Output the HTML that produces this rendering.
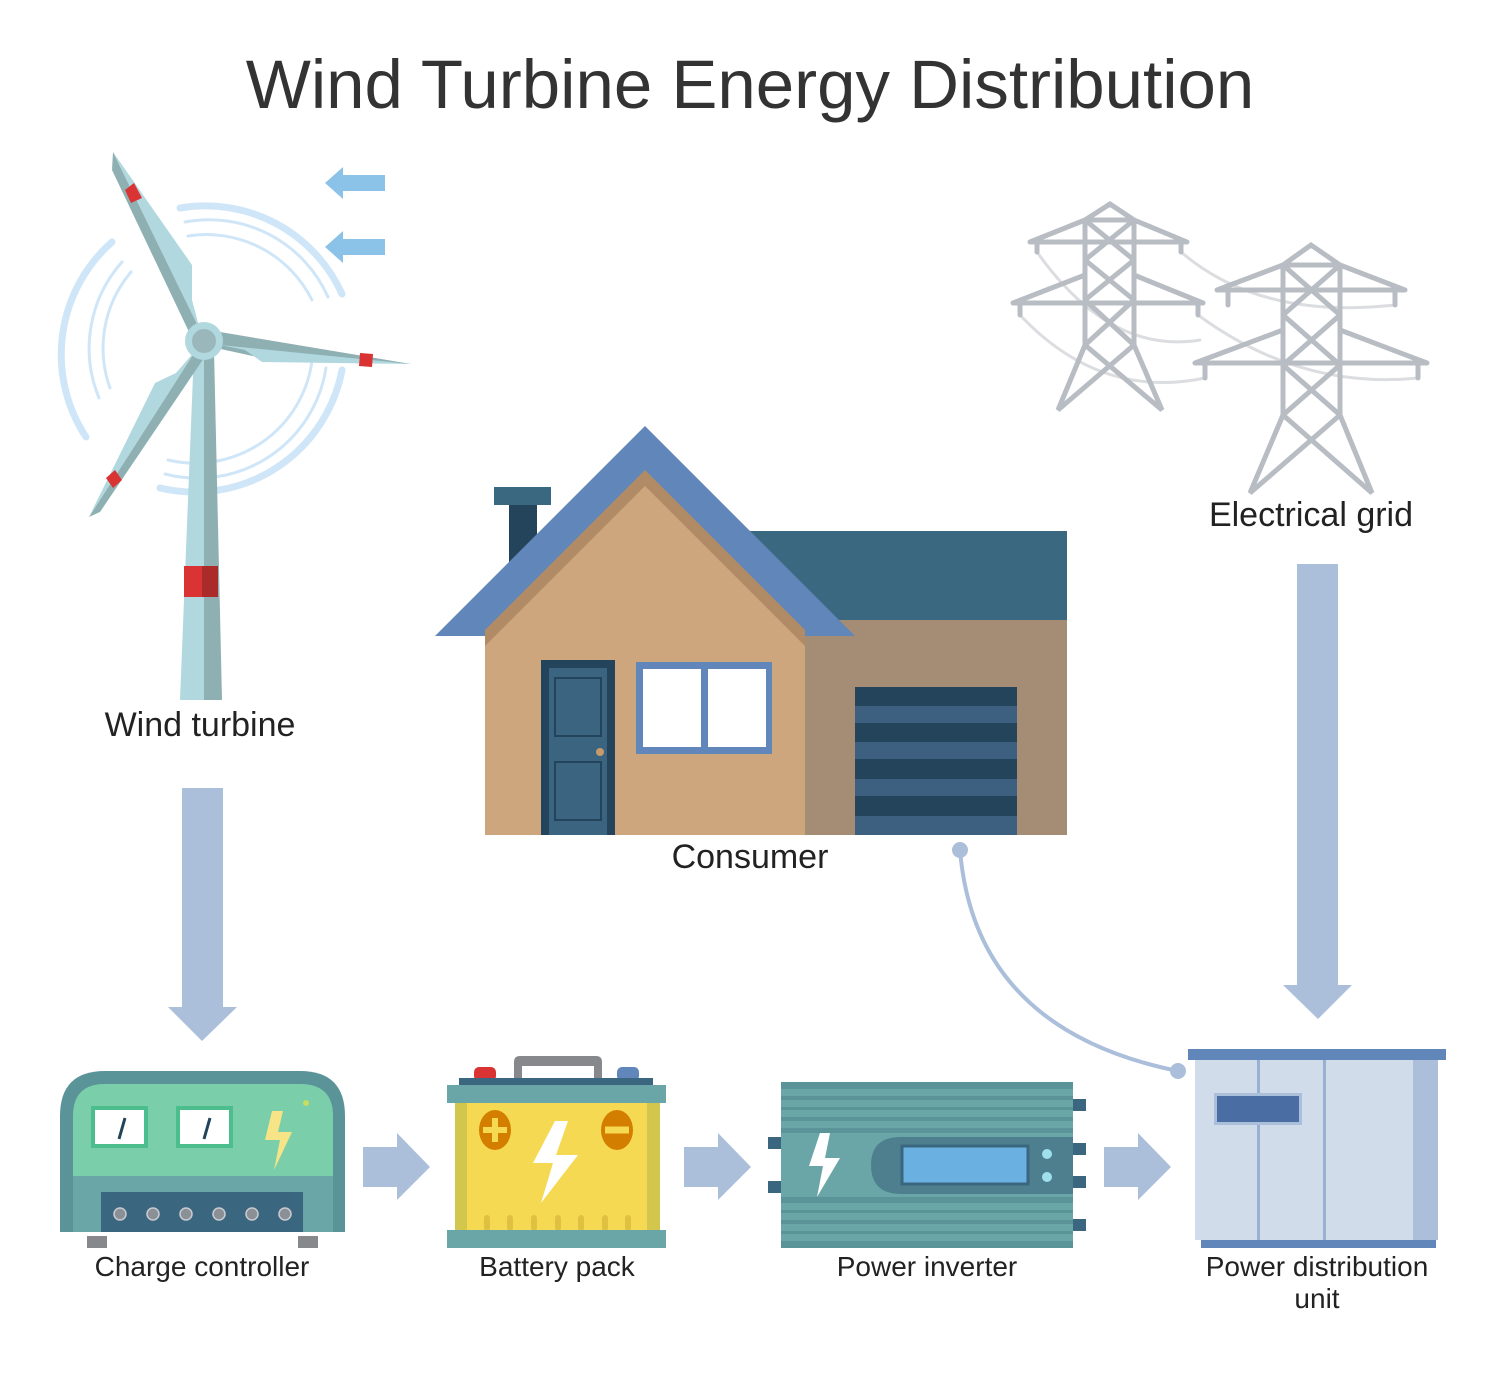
<!DOCTYPE html>
<html><head><meta charset="utf-8"><style>
html,body{margin:0;padding:0;background:#fff;}
svg{display:block;font-family:"Liberation Sans",Arial,sans-serif;}
</style></head><body>
<svg width="1500" height="1377" viewBox="0 0 1500 1377" xmlns="http://www.w3.org/2000/svg">
<rect width="1500" height="1377" fill="#fff"/>
<text x="750" y="108" font-size="69" text-anchor="middle" fill="#333">Wind Turbine Energy Distribution</text>

<!-- wind arcs -->
<g fill="none" stroke="#cfe6f8" stroke-linecap="round">
<path d="M180,208 A150,150 0 0 1 342,294" stroke-width="7"/>
<path d="M185,222 A130,130 0 0 1 328,297" stroke-width="3"/>
<path d="M188,236 A118,118 0 0 1 312,300" stroke-width="3"/>
<path d="M112,242 A150,150 0 0 0 86,437" stroke-width="7"/>
<path d="M122,262 A130,130 0 0 0 99,398" stroke-width="3"/>
<path d="M131,272 A118,118 0 0 0 110,388" stroke-width="3"/>
<path d="M342,370 A150,150 0 0 1 160,488" stroke-width="7"/>
<path d="M326,368 A130,130 0 0 1 165,474" stroke-width="3"/>
<path d="M312,361 A118,118 0 0 1 168,460" stroke-width="3"/>
</g>
<g fill="#8bc3e8">
<polygon points="325,183 343,167 343,175 385,175 385,191 343,191 343,199"/>
<polygon points="325,247 343,231 343,239 385,239 385,255 343,255 343,263"/>
</g>
<polygon points="194,350 204,350 204,700 180,700" fill="#b0d8de"/>
<polygon points="204,350 214,350 222,700 204,700" fill="#8fb0b3"/>
<rect x="184" y="566" width="18" height="31" fill="#d93333"/>
<rect x="202" y="566" width="16" height="31" fill="#ab2a2a"/>
<polygon points="113,152 200,330 190,334 112,170" fill="#8fb0b3"/>
<polygon points="113,152 192,265 192,300 200,330" fill="#b0d8de"/>
<polygon points="125,190 134,183 142,198 131,203" fill="#d93333"/>
<polygon points="411,364 220,332 216,348 262,358" fill="#8fb0b3"/>
<polygon points="411,364 262,362 245,350 220,345" fill="#b0d8de"/>
<polygon points="360,353 373,354 372,367 359,366" fill="#d93333"/>
<polygon points="89,517 196,350 206,355 100,512" fill="#8fb0b3"/>
<polygon points="89,517 155,383 176,373 196,350" fill="#b0d8de"/>
<polygon points="106,478 115,470 122,480 113,488" fill="#d93333"/>
<circle cx="204" cy="341" r="19" fill="#b0d8de"/>
<circle cx="204" cy="341" r="12" fill="#9ab8bb"/>
<text x="200" y="736" font-size="34" text-anchor="middle" fill="#222">Wind turbine</text>

<!-- grid towers -->
<g fill="none" stroke-linecap="round">
<g stroke="#dcdde0" stroke-width="3">
<path d="M1037,252 Q1110,355 1200,340"/>
<path d="M1020,315 Q1100,400 1205,378"/>
<path d="M1181,252 Q1260,320 1395,305"/>
<path d="M1198,315 Q1300,390 1418,378"/>
</g>
<g stroke="#b8bcc3" stroke-width="5">
<path d="M1085,220 L1110,204 L1134,220 M1085,220 L1134,220 M1085,220 V345 M1134,220 V345 M1030,242 H1187 M1085,220 L1030,242 M1134,220 L1187,242 M1037,242 V252 M1181,242 V252 M1013,303 H1203 M1085,275 L1013,303 M1134,275 L1203,303 M1020,303 V315 M1198,303 V315 M1085,220 L1134,260 M1134,220 L1085,260 M1085,260 L1134,300 M1134,260 L1085,300 M1085,300 L1134,345 M1134,300 L1085,345 M1085,345 L1058,410 L1134,345 M1134,345 L1162,410 L1085,345"/>
<path d="M1283,265 L1311,245 L1340,265 M1283,265 H1340 M1283,265 V415 M1340,265 V415 M1217,290 H1405 M1283,265 L1217,290 M1340,265 L1405,290 M1228,290 V305 M1395,290 V305 M1195,363 H1427 M1283,330 L1195,363 M1340,330 L1427,363 M1205,363 V378 M1418,363 V378 M1283,265 L1340,315 M1340,265 L1283,315 M1283,315 L1340,365 M1340,315 L1283,365 M1283,365 L1340,415 M1340,365 L1283,415 M1283,415 L1250,493 L1340,415 M1340,415 L1372,493 L1283,415"/>
</g>
</g>
<text x="1311" y="526" font-size="34" text-anchor="middle" fill="#222">Electrical grid</text>

<!-- house -->
<rect x="750" y="531" width="317" height="90" fill="#3a6880"/>
<rect x="805" y="620" width="262" height="215" fill="#a58c75"/>
<rect x="509" y="505" width="28" height="60" fill="#23445a"/>
<rect x="494" y="487" width="57" height="18" fill="#3a6880"/>
<polygon points="645,426 855,636 435,636" fill="#6186ba"/>
<polygon points="645,470 805,630 805,835 485,835 485,630" fill="#b08b66"/>
<polygon points="645,486 805,646 805,835 485,835 485,646" fill="#cda67e"/>
<rect x="541" y="660" width="74" height="175" fill="#23445a"/>
<rect x="549" y="668" width="58" height="167" fill="#3a6480"/>
<rect x="555" y="678" width="46" height="58" fill="none" stroke="#23445a" stroke-width="2"/>
<rect x="555" y="762" width="46" height="58" fill="none" stroke="#23445a" stroke-width="2"/>
<circle cx="600" cy="752" r="4" fill="#c89a6a"/>
<rect x="636" y="662" width="136" height="92" fill="#6186ba"/>
<rect x="643" y="669" width="58" height="78" fill="#fff"/>
<rect x="708" y="669" width="58" height="78" fill="#fff"/>
<rect x="855" y="687" width="162" height="148" fill="#23445a"/>
<g fill="#3d5f80"><rect x="855" y="706" width="162" height="17"/><rect x="855" y="742" width="162" height="17"/><rect x="855" y="779" width="162" height="17"/><rect x="855" y="816" width="162" height="19"/></g>
<text x="750" y="868" font-size="34" text-anchor="middle" fill="#222">Consumer</text>

<g fill="#abbfdb">
<polygon points="182,788 223,788 223,1007 237,1007 202,1041 168,1007 182,1007"/>
<polygon points="1297,564 1338,564 1338,985 1352,985 1318,1019 1283,985 1297,985"/>
<polygon points="363,1147 397,1147 397,1133 430,1167 397,1200 397,1187 363,1187"/>
<polygon points="684,1147 718,1147 718,1133 751,1167 718,1200 718,1187 684,1187"/>
<polygon points="1104,1147 1138,1147 1138,1133 1171,1167 1138,1200 1138,1187 1104,1187"/>
</g>
<path d="M960,850 Q975,1030 1178,1071" fill="none" stroke="#abbfdb" stroke-width="4"/>
<circle cx="960" cy="850" r="8" fill="#abbfdb"/>
<circle cx="1178" cy="1071" r="8" fill="#abbfdb"/>

<!-- charge controller -->
<path d="M60,1232 V1116 Q60,1071 105,1071 H300 Q345,1071 345,1116 V1232 Z" fill="#5a9499"/>
<path d="M73,1176 V1116 Q73,1084 105,1084 H300 Q333,1084 333,1116 V1176 Z" fill="#7acfaa"/>
<rect x="73" y="1176" width="260" height="56" fill="#6aa6a8"/>
<rect x="101" y="1192" width="202" height="40" fill="#3b6680"/>
<g fill="#8a9096" stroke="#c8ccd0" stroke-width="1.5">
<circle cx="120" cy="1214" r="6"/><circle cx="153" cy="1214" r="6"/><circle cx="186" cy="1214" r="6"/><circle cx="219" cy="1214" r="6"/><circle cx="252" cy="1214" r="6"/><circle cx="285" cy="1214" r="6"/></g>
<rect x="87" y="1236" width="20" height="12" fill="#86888b"/><rect x="298" y="1236" width="20" height="12" fill="#86888b"/>
<rect x="93" y="1108" width="53" height="38" fill="#fff" stroke="#4cbe8d" stroke-width="4"/>
<rect x="178" y="1108" width="53" height="38" fill="#fff" stroke="#4cbe8d" stroke-width="4"/>
<path d="M119,1139 L125,1118 M204,1139 L210,1118" stroke="#23445a" stroke-width="3"/>
<polygon points="272,1111 283,1111 278,1132 292,1132 274,1170 280,1140 265,1140" fill="#f6e487"/>
<circle cx="306" cy="1103" r="3" fill="#c8dc60"/>
<text x="202" y="1276" font-size="28" text-anchor="middle" fill="#222">Charge controller</text>

<!-- battery -->
<path d="M514,1078 V1062 Q514,1056 520,1056 H596 Q602,1056 602,1062 V1078 H594 V1066 H522 V1078 Z" fill="#86888b"/>
<rect x="474" y="1067" width="22" height="14" rx="5" fill="#d93333"/>
<rect x="617" y="1067" width="22" height="14" rx="5" fill="#6186ba"/>
<rect x="459" y="1078" width="194" height="8" fill="#3a6680"/>
<rect x="447" y="1085" width="219" height="18" fill="#6aa6a8"/>
<rect x="455" y="1103" width="205" height="127" fill="#d3c64d"/>
<rect x="467" y="1103" width="180" height="127" fill="#f5d952"/>
<g stroke="#e0c040" stroke-width="6" stroke-linecap="round"><path d="M487,1218V1228M510,1218V1228M534,1218V1228M558,1218V1228M581,1218V1228M605,1218V1228M628,1218V1228"/></g>
<rect x="447" y="1230" width="219" height="18" fill="#6aa6a8"/>
<ellipse cx="495" cy="1130" rx="16" ry="20" fill="#d47e00"/>
<ellipse cx="617" cy="1130" rx="16" ry="20" fill="#d47e00"/>
<path d="M483,1130 H507 M495,1118 V1142" stroke="#f5d952" stroke-width="6"/>
<path d="M605,1130 H629" stroke="#f5d952" stroke-width="7"/>
<polygon points="555,1121 568,1121 556,1155 578,1155 541,1203 553,1163 533,1163" fill="#fff"/>
<text x="557" y="1276" font-size="28" text-anchor="middle" fill="#222">Battery pack</text>

<!-- inverter -->
<rect x="781" y="1082" width="292" height="166" fill="#5a9499"/>
<g fill="#6aa6a8"><rect x="781" y="1089" width="292" height="7"/><rect x="781" y="1100" width="292" height="7"/><rect x="781" y="1110" width="292" height="7"/><rect x="781" y="1121" width="292" height="7"/>
<rect x="781" y="1133" width="292" height="64"/>
<rect x="781" y="1203" width="292" height="7"/><rect x="781" y="1213" width="292" height="7"/><rect x="781" y="1224" width="292" height="7"/><rect x="781" y="1234" width="292" height="7"/></g>
<path d="M1073,1137 H901 Q871,1137 871,1165 Q871,1194 901,1194 H1073 Z" fill="#4e7f8e"/>
<rect x="902" y="1146" width="126" height="38" fill="#6ab0e0" stroke="#3b6680" stroke-width="3"/>
<circle cx="1047" cy="1154" r="5" fill="#9fe0ec"/><circle cx="1047" cy="1177" r="5" fill="#9fe0ec"/>
<g fill="#3b6680"><rect x="768" y="1137" width="13" height="12"/><rect x="768" y="1181" width="13" height="12"/>
<rect x="1073" y="1099" width="13" height="12"/><rect x="1073" y="1143" width="13" height="12"/><rect x="1073" y="1176" width="13" height="12"/><rect x="1073" y="1219" width="13" height="12"/></g>
<polygon points="820,1133 830,1133 825,1158 840,1158 817,1197 823,1166 809,1166" fill="#fff"/>
<text x="927" y="1276" font-size="28" text-anchor="middle" fill="#222">Power inverter</text>

<!-- PDU -->
<rect x="1195" y="1060" width="243" height="180" fill="#d0dcea"/>
<rect x="1413" y="1060" width="25" height="180" fill="#abbfdb"/>
<rect x="1257" y="1060" width="3" height="180" fill="#98b0d2"/>
<rect x="1323" y="1060" width="3" height="180" fill="#98b0d2"/>
<rect x="1188" y="1049" width="258" height="11" fill="#6186ba"/>
<rect x="1201" y="1240" width="235" height="8" fill="#6186ba"/>
<rect x="1214" y="1093" width="88" height="32" fill="#abbfdb"/>
<rect x="1217" y="1096" width="82" height="26" fill="#4a6ea4"/>
<text x="1317" y="1276" font-size="28" text-anchor="middle" fill="#222">Power distribution</text>
<text x="1317" y="1308" font-size="28" text-anchor="middle" fill="#222">unit</text>
</svg>
</body></html>
